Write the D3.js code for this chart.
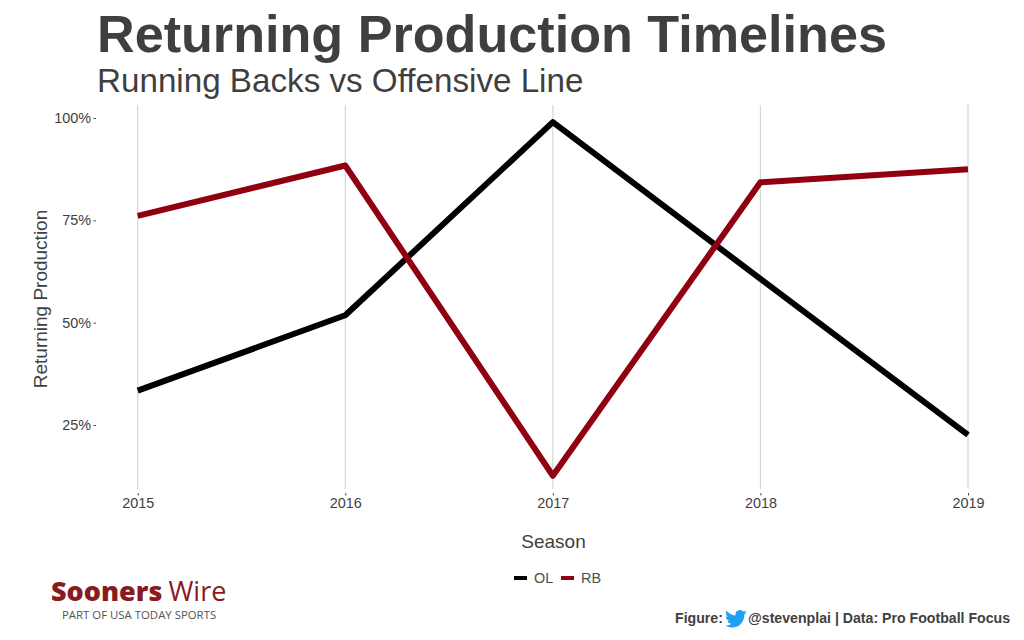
<!DOCTYPE html>
<html>
<head>
<meta charset="utf-8">
<script src="https://cdn.jsdelivr.net/npm/d3@7"></script>
<style>
  html, body { margin: 0; padding: 0; background: #fff; }
  svg { display: block; }
  text { font-family: "Liberation Sans", sans-serif; fill: #3f3f3f; }
</style>
</head>
<body>
<div id="vis"></div>
<script>
var seasons = [2015, 2016, 2017, 2018, 2019];
var olValues = [33.4, 51.8, 99, 60.7, 22.6];
var rbValues = [76.1, 88.4, 12.6, 84.3, 87.5];
var yTicks = [25, 50, 75, 100];
var seriesNames = ['OL', 'RB'];

var width = 1024;
var height = 640;

var colors = d3.scaleOrdinal()
  .domain(seriesNames)
  .range(['#000000', '#900011']);

var x = d3.scalePoint().domain(seasons).range([137.7, 968]);
var y = d3.scaleLinear().domain([25, 100]).range([425, 118]);

var svg = d3.select('#vis')
  .append('svg')
  .attr('width', width)
  .attr('height', height);

// vertical gridlines only
svg.selectAll('.grid')
  .data(seasons)
  .enter().append('line')
  .attr('class', 'grid')
  .attr('x1', function (d) { return x(d); })
  .attr('x2', function (d) { return x(d); })
  .attr('y1', 105)
  .attr('y2', 489)
  .attr('stroke', '#d6d6d6')
  .attr('stroke-width', 1.2);

var yAxis = svg.append('g')
  .attr('transform', 'translate(96,0)')
  .call(d3.axisLeft(y).tickValues(yTicks).tickSize(2.5).tickPadding(2.5)
    .tickFormat(function (d) { return d + '%'; }));
yAxis.select('.domain').remove();
yAxis.selectAll('line').attr('stroke', '#4d4d4d');
yAxis.selectAll('text')
  .attr('font-size', 14.4)
  .style('font-family', '"Liberation Sans", sans-serif')
  .attr('fill', '#4d4d4d');

var xAxis = svg.append('g')
  .attr('transform', 'translate(0,493)')
  .call(d3.axisBottom(x).tickSize(2.5).tickPadding(2.3).tickFormat(d3.format('d')));
xAxis.select('.domain').remove();
xAxis.selectAll('line').attr('stroke', '#4d4d4d');
xAxis.selectAll('text')
  .attr('font-size', 14.4)
  .style('font-family', '"Liberation Sans", sans-serif')
  .attr('fill', '#4d4d4d');

var line = d3.line()
  .x(function (d, i) { return x(seasons[i]); })
  .y(function (d) { return y(d); });

svg.append('path')
  .datum(olValues)
  .attr('d', line)
  .attr('fill', 'none')
  .attr('stroke', colors('OL'))
  .attr('stroke-width', 6)
  .attr('stroke-linejoin', 'round');

svg.append('path')
  .datum(rbValues)
  .attr('d', line)
  .attr('fill', 'none')
  .attr('stroke', colors('RB'))
  .attr('stroke-width', 6)
  .attr('stroke-linejoin', 'round');

// titles
svg.append('text').attr('x', 97).attr('y', 52)
  .attr('font-size', 52.15).attr('font-weight', 'bold')
  .text('Returning Production Timelines');
svg.append('text').attr('x', 97).attr('y', 92)
  .attr('font-size', 33.2)
  .text('Running Backs vs Offensive Line');

svg.append('text')
  .attr('transform', 'translate(47,299) rotate(-90)')
  .attr('text-anchor', 'middle')
  .attr('font-size', 19)
  .text('Returning Production');
svg.append('text')
  .attr('x', 553.5).attr('y', 548)
  .attr('text-anchor', 'middle')
  .attr('font-size', 19)
  .text('Season');

// legend
var legendX = d3.scaleOrdinal().domain(seriesNames).range([514, 561]);
var legend = svg.selectAll('.legend')
  .data(seriesNames)
  .enter().append('g')
  .attr('class', 'legend')
  .attr('transform', function (d) { return 'translate(' + legendX(d) + ',578)'; });
legend.append('line')
  .attr('x1', 0).attr('x2', 13)
  .attr('stroke', function (d) { return colors(d); })
  .attr('stroke-width', 4);
legend.append('text')
  .attr('x', 20).attr('y', 5)
  .attr('font-size', 14.4)
  .style('fill', '#4d4d4d')
  .text(function (d) { return d; });

// Sooners Wire logo, as text
var logo = svg.append('text').attr('x', 51).attr('y', 601).attr('font-size', 27);
logo.append('tspan')
  .style('font-family', '"Open Sans", sans-serif')
  .style('fill', '#8a1a20').attr('font-weight', 800).text('Sooners');
logo.append('tspan')
  .style('font-family', '"Open Sans", sans-serif')
  .style('fill', '#8a1a20').attr('dx', 6).text('Wire');
svg.append('text').attr('x', 62).attr('y', 619)
  .attr('font-size', 11.4)
  .style('font-family', '"Open Sans", sans-serif')
  .style('fill', '#555')
  .text('PART OF USA TODAY SPORTS');

// caption with the bird
svg.append('text').attr('x', 675).attr('y', 623)
  .attr('font-size', 14.15).attr('font-weight', 'bold')
  .text('Figure:');
svg.append('path')
  .attr('transform', 'translate(725,608) scale(0.9)')
  .attr('fill', '#1da1f2')
  .attr('d', 'M23.953 4.57a10 10 0 01-2.825.775 4.958 4.958 0 002.163-2.723c-.951.555-2.005.959-3.127 1.184a4.92 4.92 0 00-8.384 4.482C7.69 8.095 4.067 6.13 1.64 3.162a4.822 4.822 0 00-.666 2.475c0 1.71.87 3.213 2.188 4.096a4.904 4.904 0 01-2.228-.616v.06a4.923 4.923 0 003.946 4.827 4.996 4.996 0 01-2.212.085 4.936 4.936 0 004.604 3.417 9.867 9.867 0 01-6.102 2.105c-.39 0-.779-.023-1.17-.067a13.995 13.995 0 007.557 2.209c9.053 0 13.998-7.496 13.998-13.985 0-.21 0-.42-.015-.63A9.935 9.935 0 0024 4.59z');
svg.append('text').attr('x', 748).attr('y', 623)
  .attr('font-size', 14.15).attr('font-weight', 'bold')
  .text('@stevenplai | Data: Pro Football Focus');
</script>
</body>
</html>
